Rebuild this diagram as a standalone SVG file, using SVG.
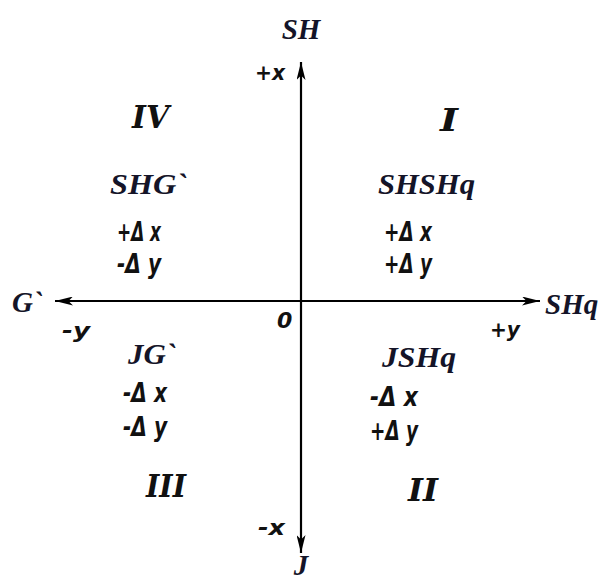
<svg xmlns="http://www.w3.org/2000/svg" width="603" height="581" viewBox="0 0 603 581">
<defs>
<marker id="ah" viewBox="0 0 20 10" refX="20" refY="5" markerWidth="18" markerHeight="9" markerUnits="userSpaceOnUse" orient="auto">
<path d="M0,0 L20,5 L0,10 L5,5 Z" fill="#000"/>
</marker>
</defs>
<style>
.lbl{font-family:"Liberation Serif",serif;font-style:italic;font-weight:bold;font-size:29px;fill:#141428}
.hw{font-family:"DejaVu Sans",sans-serif;font-style:italic;font-weight:bold;font-size:26px;fill:#111}
.sm{font-family:"DejaVu Sans",sans-serif;font-style:italic;font-weight:bold;font-size:22px;fill:#111}
.rn{font-family:"DejaVu Serif",serif;font-style:italic;font-weight:bold;font-size:32px;fill:#111}
.ax{stroke:#000;stroke-width:2.2;fill:none}
</style>
<rect width="603" height="581" fill="#fff"/>
<g id="connectors">
<line class="ax" x1="301" y1="301" x2="301" y2="62" marker-end="url(#ah)"/>
<line class="ax" x1="301" y1="301" x2="301" y2="553" marker-end="url(#ah)"/>
<line class="ax" x1="301" y1="301" x2="540" y2="301" marker-end="url(#ah)"/>
<line class="ax" x1="301" y1="301" x2="55" y2="301" marker-end="url(#ah)"/>
</g>
<g id="axis-labels">
<text class="lbl" x="301" y="39" text-anchor="middle">SH</text>
<text class="sm" x="255" y="80" textLength="30" lengthAdjust="spacingAndGlyphs">+x</text>
<text class="lbl" x="12" y="312">G`</text>
<text class="sm" x="62" y="338" textLength="28" lengthAdjust="spacingAndGlyphs">-y</text>
<text class="sm" x="277" y="328" font-size="24">0</text>
<text class="sm" x="490" y="337" textLength="30" lengthAdjust="spacingAndGlyphs">+y</text>
<text class="lbl" x="545" y="314">SHq</text>
<text class="sm" x="258" y="535" textLength="27" lengthAdjust="spacingAndGlyphs">-x</text>
<text class="lbl" x="301" y="575" text-anchor="middle">J</text>
</g>
<g id="q1">
<text class="rn" x="440" y="131" textLength="18" lengthAdjust="spacingAndGlyphs">I</text>
<text class="lbl" x="378" y="194" textLength="97" lengthAdjust="spacingAndGlyphs">SHSHq</text>
<text class="hw" x="384" y="241" textLength="48" lengthAdjust="spacingAndGlyphs">+Δ x</text>
<text class="hw" x="384" y="273" textLength="48" lengthAdjust="spacingAndGlyphs">+Δ y</text>
</g>
<g id="q4">
<text class="rn" x="132" y="128" textLength="37" lengthAdjust="spacingAndGlyphs">IV</text>
<text class="lbl" x="110" y="194" textLength="77" lengthAdjust="spacingAndGlyphs">SHG`</text>
<text class="hw" x="117" y="241" textLength="44" lengthAdjust="spacingAndGlyphs">+Δ x</text>
<text class="hw" x="117" y="273" textLength="44" lengthAdjust="spacingAndGlyphs">-Δ y</text>
</g>
<g id="q3">
<text class="lbl" x="128" y="364" textLength="48" lengthAdjust="spacingAndGlyphs">JG`</text>
<text class="hw" x="123" y="402" textLength="44" lengthAdjust="spacingAndGlyphs">-Δ x</text>
<text class="hw" x="123" y="436" textLength="44" lengthAdjust="spacingAndGlyphs">-Δ y</text>
<text class="rn" x="146" y="497" textLength="40" lengthAdjust="spacingAndGlyphs">III</text>
</g>
<g id="q2">
<text class="lbl" x="382" y="367" textLength="74" lengthAdjust="spacingAndGlyphs">JSHq</text>
<text class="hw" x="370" y="406" textLength="48" lengthAdjust="spacingAndGlyphs">-Δ x</text>
<text class="hw" x="370" y="440" textLength="48" lengthAdjust="spacingAndGlyphs">+Δ y</text>
<text class="rn" x="408" y="501" textLength="30" lengthAdjust="spacingAndGlyphs">II</text>
</g>
</svg>
